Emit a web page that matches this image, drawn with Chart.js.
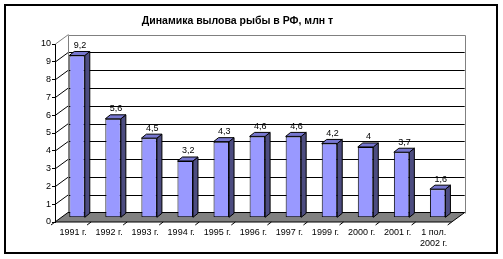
<!DOCTYPE html>
<html>
<head>
<meta charset="utf-8">
<script src="https://cdn.jsdelivr.net/npm/chart.js@4/dist/chart.umd.min.js"></script>
<style>
  html, body { margin: 0; padding: 0; background: #fff; }
  #wrap { width: 503px; height: 259px; }
</style>
</head>
<body>
<div id="wrap"><canvas id="c" width="503" height="259"></canvas></div>
<script>
// ---- data ----
const categories = ['1991 г.', '1992 г.', '1993 г.', '1994 г.', '1995 г.', '1996 г.', '1997 г.', '1999 г.', '2000 г.', '2001 г.', ['1 пол.', '2002 г.']];
const fishCatch = [9.2, 5.6, 4.5, 3.2, 4.3, 4.6, 4.6, 4.2, 4, 3.7, 1.6];
const yTickLabels = ['0', '1', '2', '3', '4', '5', '6', '7', '8', '9', '10'];
const chartTitle = 'Динамика вылова рыбы в РФ, млн т';

// ---- 3D look ----
const FONT = '"Liberation Sans", Arial, sans-serif';
const DEPTH = { x: 13, y: -9.5 };      // front plane -> back wall
const BAR_SHIFT = { x: 4, y: -4.7 };   // front plane -> bar front face
const BAR_DEPTH = { x: 5, y: -4 };     // bar front -> bar back
const FRONT_COL = '#9999FF', SIDE_COL = '#4C4C80', TOP_COL = '#7777D0';

const threeD = {
  id: 'threeD',
  beforeDraw(chart) {
    const ctx = chart.ctx;
    ctx.save();
    ctx.fillStyle = '#ffffff';
    ctx.fillRect(0, 0, chart.width, chart.height);
    ctx.fillStyle = '#000000';
    ctx.font = 'bold 10.5px ' + FONT;
    ctx.textAlign = 'center';
    ctx.textBaseline = 'middle';
    ctx.fillText(chartTitle, 237.5, 21);
    ctx.restore();
  },
  beforeDatasetsDraw(chart) {
    const ctx = chart.ctx;
    const a = chart.chartArea;
    const ys = chart.scales.y;
    const yF = v => ys.getPixelForValue(v);
    const L = a.left, R = a.right;
    ctx.save();
    ctx.lineWidth = 1;
    // back wall gridlines
    ctx.strokeStyle = '#000000';
    for (let v = 1; v <= 9; v++) {
      const y = Math.round(yF(v) + DEPTH.y) + 0.5;
      ctx.beginPath();
      ctx.moveTo(L + DEPTH.x, y);
      ctx.lineTo(R + DEPTH.x, y);
      ctx.stroke();
    }
    // side wall gridlines
    for (let v = 1; v <= 10; v++) {
      ctx.strokeStyle = v === 10 ? '#808080' : '#000000';
      ctx.beginPath();
      ctx.moveTo(L + 0.5, yF(v));
      ctx.lineTo(L + DEPTH.x + 0.5, yF(v) + DEPTH.y);
      ctx.stroke();
    }
    // back wall border
    ctx.strokeStyle = '#808080';
    const bl = Math.round(L + DEPTH.x) + 0.5, br = Math.round(R + DEPTH.x) + 0.5;
    const bt = Math.round(yF(10) + DEPTH.y) + 0.5, bb = Math.round(yF(0) + DEPTH.y) + 0.5;
    ctx.beginPath();
    ctx.moveTo(bl, bb);
    ctx.lineTo(bl, bt);
    ctx.lineTo(br, bt);
    ctx.lineTo(br, bb);
    ctx.stroke();
    // floor
    const f0 = yF(0);
    ctx.beginPath();
    ctx.moveTo(L, f0);
    ctx.lineTo(R, f0);
    ctx.lineTo(R + DEPTH.x, f0 + DEPTH.y);
    ctx.lineTo(L + DEPTH.x, f0 + DEPTH.y);
    ctx.closePath();
    ctx.fillStyle = '#808080';
    ctx.fill();
    ctx.strokeStyle = '#000000';
    ctx.stroke();
    // category tick marks on floor front edge
    const xs = chart.scales.x;
    for (let i = 0; i <= categories.length; i++) {
      const x = i === 0 ? L : (i === categories.length ? R : (xs.getPixelForTick(i - 1) + xs.getPixelForTick(i)) / 2);
      ctx.beginPath();
      ctx.moveTo(x, f0);
      ctx.lineTo(x - 4, f0 + 3);
      ctx.stroke();
    }
    ctx.restore();
    ctx.save();
    ctx.translate(BAR_SHIFT.x, BAR_SHIFT.y);
  },
  afterDatasetsDraw(chart) {
    const ctx = chart.ctx;
    const meta = chart.getDatasetMeta(0);
    ctx.lineWidth = 1;
    ctx.strokeStyle = '#000000';
    meta.data.forEach((bar, i) => {
      const p = bar.getProps(['x', 'y', 'base', 'width'], true);
      const l = p.x - p.width / 2, r = p.x + p.width / 2, t = p.y, b = p.base;
      // side face
      ctx.beginPath();
      ctx.moveTo(r, t);
      ctx.lineTo(r + BAR_DEPTH.x, t + BAR_DEPTH.y);
      ctx.lineTo(r + BAR_DEPTH.x, b + BAR_DEPTH.y);
      ctx.lineTo(r, b);
      ctx.closePath();
      ctx.fillStyle = SIDE_COL;
      ctx.fill();
      ctx.stroke();
      // top face
      ctx.beginPath();
      ctx.moveTo(l, t);
      ctx.lineTo(l + BAR_DEPTH.x, t + BAR_DEPTH.y);
      ctx.lineTo(r + BAR_DEPTH.x, t + BAR_DEPTH.y);
      ctx.lineTo(r, t);
      ctx.closePath();
      ctx.fillStyle = TOP_COL;
      ctx.fill();
      ctx.stroke();
      // value label
      ctx.fillStyle = '#000000';
      ctx.font = '9px ' + FONT;
      ctx.textAlign = 'center';
      ctx.textBaseline = 'middle';
      ctx.fillText(String(fishCatch[i]).replace('.', ','), p.x + 3, t - 10);
    });
    ctx.restore();
  },
  afterDraw(chart) {
    const ctx = chart.ctx;
    ctx.save();
    ctx.strokeStyle = '#000000';
    ctx.lineWidth = 2;
    ctx.strokeRect(5, 5, 492, 248);
    ctx.restore();
  }
};

new Chart(document.getElementById('c'), {
  type: 'bar',
  data: {
    labels: categories,
    datasets: [{
      data: fishCatch,
      yAxisID: 'yb',
      backgroundColor: FRONT_COL,
      borderColor: '#000000',
      borderWidth: 1,
      borderSkipped: false,
      categoryPercentage: 1,
      barPercentage: 0.43
    }]
  },
  options: {
    responsive: false,
    devicePixelRatio: 1,
    animation: false,
    layout: { padding: { left: 0, right: 51.3, top: 44, bottom: 0 } },
    plugins: {
      legend: { display: false },
      tooltip: { enabled: false },
      title: { display: false }
    },
    scales: {
      x: {
        grid: { display: false, drawTicks: false, tickLength: 0 },
        border: { display: false },
        ticks: {
          color: '#000000',
          font: { family: FONT, size: 9, lineHeight: 1.2 },
          padding: 5,
          maxRotation: 0,
          autoSkip: false
        },
        afterFit(s) { s.height = 37; }
      },
      y: {
        min: 0,
        max: 10,
        grid: { display: true, drawOnChartArea: false, drawTicks: true, tickLength: 3, color: '#000000' },
        border: { display: true, color: '#000000' },
        ticks: {
          stepSize: 1,
          color: '#000000',
          font: { family: FONT, size: 9 },
          padding: 1,
          callback: (v) => yTickLabels[v]
        },
        afterFit(s) { s.width = 55; }
      },
      yb: {
        display: false,
        min: 0,
        max: 10.12
      }
    }
  },
  plugins: [threeD]
});
</script>
</body>
</html>
